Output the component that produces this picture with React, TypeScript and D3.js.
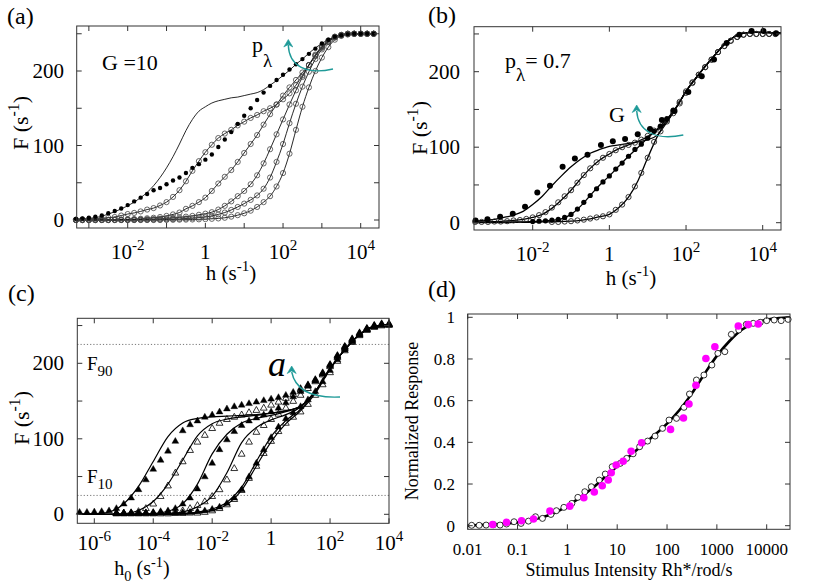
import React from "react";
import * as d3 from "d3";

const FONT = "'Liberation Serif', 'Times New Roman', serif";
const TEAL = "#1f9a98";
const FRAME = "#333";

// ---------------- Panel (a): G = 10, varying p_lambda ----------------
const A_LOGH = d3.range(-20, 27).map((k) => k / 6); // log10 h sampling grid
const A_LINE1 = [1, 1.5, 2, 3, 5, 8, 11, 15, 19, 24, 30, 37, 46, 57, 70, 85, 102, 120, 135, 146, 152, 157, 160, 162, 164, 165, 167, 169, 171, 175, 181, 187, 194, 201, 209, 216, 224, 231, 237, 242, 246, 248, 249.5, 250, 250, 250, 250];
const A_FILLED = [1.5, 2.2, 3, 4.3, 6, 9, 12, 15.5, 20, 25, 30, 35, 40, 43, 48, 53, 57, 63, 70, 75, 81, 88, 98, 108, 118, 129, 140, 150, 161, 171, 180, 188, 195, 202, 209, 216, 223, 230, 237, 242, 246, 248, 249.5, 250, 250, 250, 250];
const A_OPEN_1 = [0.5, 0.7, 1, 1.5, 2, 3, 4, 6, 8, 9.5, 11.5, 14, 16, 19.5, 24, 31, 40, 52, 66, 79, 91, 101, 110, 116, 121, 127, 132, 137, 141, 146, 150, 155, 162, 170, 181, 194, 208, 221, 232, 240, 246, 248.5, 250, 250, 250, 250, 250];
const A_OPEN_2 = [0, 0, 0, 0, 0.2, 0.3, 0.5, 0.7, 1, 1.3, 1.7, 2.3, 3, 4, 5.5, 7.5, 10, 15, 19, 24, 30, 39, 49, 58, 67, 78, 90, 102, 114, 128, 142, 155, 167, 178, 188, 198, 208, 220, 231, 239, 245, 248, 250, 250, 250, 250, 250];
const A_OPEN_3 = [0, 0, 0, 0, 0, 0, 0, 0.2, 0.3, 0.5, 0.7, 1, 1.3, 1.7, 2.2, 2.8, 3.5, 4.5, 5.5, 7, 8.5, 10.5, 14, 19, 25, 32, 39, 48, 60, 76, 95, 115, 135, 155, 174, 192, 208, 222, 233, 241, 246, 248.5, 250, 250, 250, 250, 250];
const A_OPEN_4 = [0, 0, 0, 0, 0, 0, 0, 0, 0, 0, 0.2, 0.3, 0.4, 0.6, 0.8, 1.1, 1.5, 2, 2.5, 3.2, 4, 5.5, 7.5, 10, 13.5, 17.5, 22, 27, 33, 42, 57, 78, 102, 130, 156, 179, 199, 216, 229, 239, 245, 248, 249.5, 250, 250, 250, 250];
const A_OPEN_5 = [0, 0, 0, 0, 0, 0, 0, 0, 0, 0, 0, 0, 0, 0, 0.2, 0.3, 0.4, 0.5, 0.7, 0.9, 1.2, 1.6, 2.1, 3, 4.5, 6.5, 9, 12.5, 17.5, 24, 32, 45, 63, 89, 121, 152, 178, 200, 218, 232, 242, 247, 249, 250, 250, 250, 250];
const A_X_TICKS = [-3, -2, -1, 0, 1, 2, 3, 4];
const A_X_LABELS = [-2, 0, 2, 4];
const F_TICKS = [0, 50, 100, 150, 200, 250];
const F_LABELS = [0, 100, 200];

// ---------------- Panel (b): p_lambda = 0.7, varying G ----------------
const B_FILLED_A_LOGH = [-3.49, -3.18, -2.85, -2.52, -2.2, -1.88, -1.55, -1.22, -0.9, -0.57, -0.22, 0.09, 0.41, 0.74, 1.06, 1.37, 1.7, 2.06, 2.41, 2.73, 3.06, 3.39, 3.71, 4.02, 4.35];
const B_FILLED_A = [3, 4.5, 8, 12, 21, 40, 49, 74, 85, 90, 103, 108, 111, 117, 124, 136, 148, 173, 194, 216, 238, 249, 254, 254, 251];
const B_OPEN_B_LOGH = d3.range(-21, 27).map((k) => k / 6);
const B_OPEN_B = [1, 1, 1, 1.5, 1.5, 2, 3, 3.5, 5, 7, 10, 14, 20, 27, 35, 43, 53, 63, 72, 80, 86, 91, 96, 100, 103, 106, 110, 115, 122, 127, 134, 145, 158, 172, 185, 196, 206, 216, 226, 234, 241, 246, 249, 250, 250, 250, 250, 250];
const B_FILLED_C_LOGH = d3.range(-12, 11).map((k) => k / 6);
const B_FILLED_C = [1.5, 2, 2.5, 3.5, 4.5, 7, 11, 18, 27, 36, 45, 54, 62, 71, 79, 88, 97, 104, 112, 121, 128, 138, 149];
const B_OPEN_D_LOGH = d3.range(-9, 27).map((k) => k / 6);
const B_OPEN_D = [1, 1, 1.5, 2, 3, 4, 5.5, 7, 8.5, 11, 17, 24, 34, 48, 66, 86, 107, 121, 136, 148, 160, 174, 186, 196, 206, 216, 226, 234, 241, 246, 249, 250, 250, 250, 250, 250];
const B_LINE_LOGH = d3.range(-14, 19).map((k) => k / 4);
const B_LINE_A = [2, 3, 4.5, 7, 10, 15, 24, 35, 49, 62, 74, 84, 92, 97, 101, 103, 105, 107, 110, 116, 133, 153, 174, 191, 207, 222, 236, 246, 251, 252, 252, 251.5, 251];
const B_LINE_B = [1, 1, 1.5, 2, 3, 4.5, 7, 11, 19, 30, 43, 58, 72, 83, 91, 98, 103, 108, 114, 123, 134, 153, 174, 191, 207, 222, 236, 246, 251, 252, 252, 251.5, 251];
const B_LINE_C = [0.5, 0.5, 0.5, 0.5, 1, 1, 1.5, 2, 3, 5, 11, 22, 36, 50, 62, 75, 88, 100, 112, 124, 137, 153, 174, 191, 207, 222, 236, 246, 251, 252, 252, 251.5, 251];
const B_LINE_D = [0, 0, 0, 0, 0.3, 0.5, 0.7, 1, 1.2, 1.6, 2, 3, 5, 8, 11, 20, 34, 56, 86, 114, 136, 153, 174, 191, 207, 222, 236, 246, 251, 252, 252, 251.5, 251];
const B_X_TICKS = [-2, 0, 2, 4];

// ---------------- Panel (c): varying a, triangles ----------------
const C_TRI_LOGH_1 = d3.range(-26, 17).map((k) => k / 4);
const C_TRI_LOGH_2 = d3.range(-21, 17).map((k) => k / 4);
const C_TRI_1 = [3, 3, 3.5, 4, 5, 8, 14, 22, 33, 46, 60, 72, 84, 97, 111, 119, 124, 129, 132, 136, 140, 143, 145, 147, 149, 151, 153, 155, 158, 162, 167, 172, 179, 188, 199, 211, 223, 233, 241, 247, 251, 253, 253];
const C_TRI_2 = [2, 2, 2.5, 4, 8, 14, 24, 38, 55, 70, 85, 96, 105, 114, 121, 126, 129, 132, 135, 138, 141, 145, 149, 154, 159, 165, 171, 178, 187, 198, 210, 222, 232, 240, 246, 250, 252, 252];
const C_TRI_3 = [2, 2, 2, 2, 2.5, 3, 4, 5, 8, 14, 22, 34, 50, 68, 86, 99, 110, 118, 124, 128, 132, 136, 141, 148, 156, 163, 170, 177, 186, 197, 209, 221, 231, 239, 245, 249, 251, 251];
const C_TRI_4 = [1.5, 1.5, 1.5, 1.5, 2, 2, 2.5, 3, 4, 5, 8, 12, 17, 24, 33, 46, 61, 80, 96, 109, 118, 126, 133, 141, 150, 158, 167, 176, 185, 196, 208, 220, 230, 238, 245, 249, 251, 251];
const C_TRI_5 = [1.5, 1.5, 1.5, 1.5, 1.5, 1.5, 2, 2, 2, 2.5, 3, 4, 5, 7, 10, 15, 22, 33, 50, 68, 86, 102, 116, 127, 135, 143, 152, 163, 176, 191, 205, 218, 229, 238, 245, 249, 251, 252];
const C_TRI_6 = [1, 1, 1, 1, 1, 1, 1, 1, 1.5, 1.5, 2, 2, 3, 5, 8, 13, 20, 32, 48, 64, 81, 97, 110, 121, 129, 136, 146, 158, 172, 188, 203, 217, 228, 237, 244, 248, 250, 251];
const C_LINE_LOGH = d3.range(-13, 9).map((k) => k / 2);
const C_LINE_1 = [0, 0.5, 3, 14, 37, 70, 103, 121, 127, 129, 130, 131, 132, 134, 137, 143, 163, 193, 218, 238, 249, 251];
const C_LINE_2 = [0, 0, 0, 0.5, 5, 17, 40, 72, 104, 120, 126, 129, 131, 134, 137, 143, 163, 193, 218, 238, 249, 251];
const C_LINE_3 = [0, 0, 0, 0, 0.5, 1, 4, 14, 40, 80, 106, 121, 127, 131, 136, 143, 163, 193, 218, 238, 249, 251];
const C_LINE_4 = [0, 0, 0, 0, 0, 0.5, 1, 3, 10, 24, 55, 95, 115, 125, 132, 142, 163, 193, 218, 238, 249, 251];
const C_LINE_5 = [0, 0, 0, 0, 0, 0, 0.5, 1, 3, 7, 16, 36, 70, 103, 124, 139, 162, 193, 218, 238, 249, 251];
const C_LINE_6 = [0, 0, 0, 0, 0, 0, 0, 0.5, 1.5, 5, 13, 32, 64, 96, 120, 137, 160, 192, 218, 238, 249, 251];
const C_X_TICKS = [-6, -4, -2, 0, 2, 4];
const C_F90 = 225;
const C_F10 = 25;

// ---------------- Panel (d): normalized response ----------------
const D_OPEN_LOGI = [-1.92, -1.77, -1.63, -1.48, -1.35, -1.22, -1.07, -0.93, -0.78, -0.64, -0.5, -0.33, -0.22, -0.07, 0.09, 0.21, 0.35, 0.48, 0.64, 0.76, 0.9, 1.06, 1.19, 1.32, 1.45, 1.61, 1.76, 1.91, 2.04, 2.19, 2.34, 2.45, 2.59, 2.74, 2.9, 3.02, 3.16, 3.29, 3.44, 3.59, 3.73, 3.87, 4.0, 4.15, 4.29, 4.43];
const D_OPEN_R = [0.002, 0.002, 0.003, 0.005, 0.003, 0.008, 0.019, 0.011, 0.022, 0.043, 0.035, 0.054, 0.072, 0.088, 0.107, 0.136, 0.163, 0.187, 0.219, 0.248, 0.283, 0.299, 0.323, 0.345, 0.379, 0.406, 0.43, 0.467, 0.507, 0.515, 0.568, 0.632, 0.699, 0.723, 0.771, 0.827, 0.835, 0.918, 0.939, 0.966, 0.971, 0.976, 0.984, 0.987, 0.984, 0.99];
const D_MAG_LOGI = [-1.5, -1.22, -0.92, -0.68, -0.35, 0.05, 0.33, 0.54, 0.7, 0.82, 0.88, 0.98, 1.12, 1.28, 1.49, 2.07, 2.33, 2.44, 2.58, 2.78, 2.96, 3.43, 3.63, 3.83];
const D_MAG_R = [0.006, 0.016, 0.024, 0.032, 0.07, 0.094, 0.134, 0.162, 0.192, 0.219, 0.254, 0.291, 0.309, 0.357, 0.398, 0.462, 0.517, 0.584, 0.674, 0.802, 0.859, 0.958, 0.965, 0.968];
const D_LINE_LOGI = d3.range(-8, 19).map((k) => k / 4);
const D_LINE_R = [0, 0.003, 0.006, 0.01, 0.016, 0.026, 0.04, 0.062, 0.095, 0.135, 0.18, 0.232, 0.285, 0.335, 0.385, 0.435, 0.49, 0.555, 0.635, 0.728, 0.815, 0.885, 0.94, 0.972, 0.988, 0.996, 1.0];
const D_X_TICKS = [0.01, 0.1, 1, 10, 100, 1000, 10000];
const D_X_LABELS = ["0.01", "0.1", "1", "10", "100", "1000", "10000"];
const D_Y_TICKS = [0, 0.2, 0.4, 0.6, 0.8, 1];

type Box = { x0: number; x1: number; y0: number; y1: number };

function Frame({ f }: { f: Box }) {
  return <rect x={f.x0} y={f.y0} width={f.x1 - f.x0} height={f.y1 - f.y0} fill="none" stroke={FRAME} strokeWidth={1} />;
}

function Ticks({ f, xs, ys, len = 5 }: { f: Box; xs: number[]; ys: number[]; len?: number }) {
  return (
    <g stroke={FRAME} strokeWidth={1}>
      {xs.map((v, i) => (
        <g key={"x" + i}>
          <line x1={v} x2={v} y1={f.y1} y2={f.y1 - len} />
          <line x1={v} x2={v} y1={f.y0} y2={f.y0 + len} />
        </g>
      ))}
      {ys.map((v, i) => (
        <g key={"y" + i}>
          <line x1={f.x0} x2={f.x0 + len} y1={v} y2={v} />
          <line x1={f.x1} x2={f.x1 - len} y1={v} y2={v} />
        </g>
      ))}
    </g>
  );
}

function Pow({ x, y, e, fs }: { x: number; y: number; e: number; fs: number }) {
  if (e === 0)
    return (
      <text x={x} y={y} textAnchor="middle" fontSize={fs}>
        1
      </text>
    );
  return (
    <text x={x} y={y} textAnchor="middle" fontSize={fs}>
      10
      <tspan dy={-fs * 0.42} fontSize={fs * 0.72}>
        {String(e)}
      </tspan>
    </text>
  );
}

function YTitle({ x, y, fs }: { x: number; y: number; fs: number }) {
  return (
    <text transform={`translate(${x},${y}) rotate(-90)`} textAnchor="middle" fontSize={fs}>
      F (s
      <tspan dy={-fs * 0.42} fontSize={fs * 0.72}>
        -1
      </tspan>
      <tspan dy={fs * 0.42}>)</tspan>
    </text>
  );
}

function XTitle({ x, y, fs, sub }: { x: number; y: number; fs: number; sub?: string }) {
  return (
    <text x={x} y={y} textAnchor="middle" fontSize={fs}>
      h
      {sub ? (
        <tspan dy={fs * 0.3} fontSize={fs * 0.72}>
          {sub}
        </tspan>
      ) : null}
      <tspan dy={sub ? -fs * 0.3 : 0}> (s</tspan>
      <tspan dy={-fs * 0.42} fontSize={fs * 0.72}>
        -1
      </tspan>
      <tspan dy={fs * 0.42}>)</tspan>
    </text>
  );
}

function Arrow({ d, tx, ty }: { d: string; tx: number; ty: number }) {
  return (
    <g>
      <path d={d} fill="none" stroke={TEAL} strokeWidth={1.4} />
      <path d={`M${tx - 4.5},${ty + 7.5} L${tx},${ty} L${tx + 4.5},${ty + 7.5} L${tx},${ty + 5} Z`} fill={TEAL} stroke={TEAL} strokeWidth={0.6} />
    </g>
  );
}

function linePath(grid: number[], vals: number[], sx: (v: number) => number, sy: (v: number) => number, curve: any = d3.curveMonotoneX) {
  return (
    d3
      .line<number>()
      .x((_, i) => sx(Math.pow(10, grid[i])))
      .y((v) => sy(v))
      .curve(curve)(vals) || ""
  );
}

const TRI = "M0,-3.6 L3.4,2.3 L-3.4,2.3 Z";

function PanelA() {
  const f: Box = { x0: 76.7, x1: 379, y0: 26, y1: 228 };
  const x = d3.scaleLog().domain([1e-2, 1e4]).range([127.7, 360.7]);
  const y = d3.scaleLinear().domain([0, 200]).range([220, 71]);
  const opens = [A_OPEN_1, A_OPEN_2, A_OPEN_3, A_OPEN_4, A_OPEN_5];
  return (
    <g>
      <defs>
        <clipPath id="clipA">
          <rect x={f.x0} y={f.y0} width={f.x1 - f.x0} height={f.y1 - f.y0} />
        </clipPath>
      </defs>
      <g clipPath="url(#clipA)" fill="none" stroke="#111" strokeWidth={0.9}>
        {[A_LINE1, ...opens].map((s, i) => (
          <path key={i} d={linePath(A_LOGH, s, x, y)} />
        ))}
      </g>
      <g fill="none" stroke="#444" strokeWidth={0.8}>
        {opens.map((s, j) =>
          s.map((v, i) => <circle key={j + "-" + i} cx={x(Math.pow(10, A_LOGH[i]))} cy={y(v)} r={2.6} />)
        )}
      </g>
      <g fill="#000">
        {A_FILLED.map((v, i) => (
          <circle key={i} cx={x(Math.pow(10, A_LOGH[i]))} cy={y(v)} r={2.2} />
        ))}
      </g>
      <Frame f={f} />
      <Ticks f={f} xs={A_X_TICKS.map((e) => x(Math.pow(10, e)))} ys={F_TICKS.map((v) => y(v))} />
      {A_X_LABELS.map((e) => (
        <Pow key={e} x={x(Math.pow(10, e))} y={259} e={e} fs={21} />
      ))}
      {F_LABELS.map((v) => (
        <text key={v} x={64} y={y(v) + 7} textAnchor="end" fontSize={21}>
          {v}
        </text>
      ))}
      <XTitle x={231} y={280} fs={21} />
      <YTitle x={28} y={123} fs={22} />
      <text x={7} y={24} fontSize={24}>
        (a)
      </text>
      <text x={102} y={70} fontSize={22}>
        G =10
      </text>
      <text x={252} y={52} fontSize={22}>
        p
        <tspan dy={15} fontSize={19}>
          λ
        </tspan>
      </text>
      <Arrow d="M333,69 C306,75 289,66 288.3,45" tx={288.3} ty={39.5} />
    </g>
  );
}

function PanelB() {
  const f: Box = { x0: 474, x1: 781, y0: 26.7, y1: 230 };
  const x = d3.scaleLog().domain([1e-2, 1e4]).range([532.7, 762.7]);
  const y = d3.scaleLinear().domain([0, 200]).range([222.7, 71.7]);
  const px = (e: number) => x(Math.pow(10, e));
  return (
    <g>
      <defs>
        <clipPath id="clipB">
          <rect x={f.x0} y={f.y0} width={f.x1 - f.x0} height={f.y1 - f.y0} />
        </clipPath>
      </defs>
      <g clipPath="url(#clipB)" fill="none" stroke="#000" strokeWidth={1.3}>
        {[B_LINE_A, B_LINE_B, B_LINE_C, B_LINE_D].map((s, i) => (
          <path key={i} d={linePath(B_LINE_LOGH, s, x, y)} />
        ))}
      </g>
      <g fill="none" stroke="#222" strokeWidth={0.9}>
        {B_OPEN_B.map((v, i) => (
          <circle key={"b" + i} cx={px(B_OPEN_B_LOGH[i])} cy={y(v)} r={2.6} />
        ))}
        {B_OPEN_D.map((v, i) => (
          <circle key={"d" + i} cx={px(B_OPEN_D_LOGH[i])} cy={y(v)} r={2.6} />
        ))}
      </g>
      <g fill="#000">
        {B_FILLED_C.map((v, i) => (
          <circle key={"c" + i} cx={px(B_FILLED_C_LOGH[i])} cy={y(v)} r={2.6} />
        ))}
        {B_FILLED_A.map((v, i) => (
          <circle key={"a" + i} cx={px(B_FILLED_A_LOGH[i])} cy={y(v)} r={3} />
        ))}
      </g>
      <Frame f={f} />
      <Ticks f={f} xs={B_X_TICKS.map(px)} ys={F_TICKS.map((v) => y(v))} />
      {B_X_TICKS.map((e) => (
        <Pow key={e} x={px(e)} y={261} e={e} fs={21} />
      ))}
      {F_LABELS.map((v) => (
        <text key={v} x={460} y={y(v) + 7} textAnchor="end" fontSize={21}>
          {v}
        </text>
      ))}
      <XTitle x={631} y={285} fs={21} />
      <YTitle x={427} y={128} fs={22} />
      <text x={428} y={23} fontSize={24}>
        (b)
      </text>
      <text x={505} y={68} fontSize={22}>
        p
        <tspan dy={13} fontSize={19}>
          λ
        </tspan>
        <tspan dy={-13} fontSize={22}>
          = 0.7
        </tspan>
      </text>
      <text x={609} y={122} fontSize={22}>
        G
      </text>
      <Arrow d="M683.3,135 C655,141 638,131 636.7,111" tx={636.7} ty={105} />
    </g>
  );
}

function PanelC() {
  const f: Box = { x0: 77.3, x1: 389, y0: 318.3, y1: 523.3 };
  const x = d3.scaleLog().domain([1e-6, 1e4]).range([94.3, 389]);
  const y = d3.scaleLinear().domain([0, 200]).range([514.3, 363.3]);
  const px = (e: number) => x(Math.pow(10, e));
  const tris: [number[], number[], boolean][] = [
    [C_TRI_LOGH_1, C_TRI_1, true],
    [C_TRI_LOGH_2, C_TRI_2, false],
    [C_TRI_LOGH_2, C_TRI_3, true],
    [C_TRI_LOGH_2, C_TRI_4, false],
    [C_TRI_LOGH_2, C_TRI_5, true],
    [C_TRI_LOGH_2, C_TRI_6, false],
  ];
  return (
    <g>
      <defs>
        <clipPath id="clipC">
          <rect x={f.x0} y={f.y0} width={f.x1 - f.x0} height={f.y1 - f.y0} />
        </clipPath>
      </defs>
      <g stroke="#555" strokeWidth={0.8} strokeDasharray="1.2,2">
        <line x1={f.x0} x2={f.x1} y1={y(C_F90)} y2={y(C_F90)} />
        <line x1={f.x0} x2={f.x1} y1={y(C_F10)} y2={y(C_F10)} />
      </g>
      <g clipPath="url(#clipC)" fill="none" stroke="#000" strokeWidth={1.2}>
        {[C_LINE_1, C_LINE_2, C_LINE_3, C_LINE_4, C_LINE_5, C_LINE_6].map((s, i) => (
          <path key={i} d={linePath(C_LINE_LOGH, s, x, y)} />
        ))}
      </g>
      {tris.map(([grid, vals, filled], j) => (
        <g key={j} fill={filled ? "#000" : "none"} stroke="#000" strokeWidth={filled ? 0.4 : 0.8}>
          {vals.map((v, i) => (
            <path key={i} d={TRI} transform={`translate(${px(grid[i])},${y(v)})`} />
          ))}
        </g>
      ))}
      <Frame f={f} />
      <Ticks f={f} xs={C_X_TICKS.map(px)} ys={F_TICKS.map((v) => y(v))} />
      {C_X_TICKS.map((e) => (
        <Pow key={e} x={px(e)} y={e === 0 ? 545 : 550} e={e} fs={21} />
      ))}
      {F_LABELS.map((v) => (
        <text key={v} x={64} y={y(v) + 7} textAnchor="end" fontSize={21}>
          {v}
        </text>
      ))}
      <XTitle x={142} y={575} fs={20} sub="0" />
      <YTitle x={29} y={418} fs={22} />
      <text x={8} y={301} fontSize={24}>
        (c)
      </text>
      <text x={87} y={370} fontSize={19}>
        F
        <tspan dy={6} fontSize={15}>
          90
        </tspan>
      </text>
      <text x={87} y={483} fontSize={19}>
        F
        <tspan dy={6} fontSize={15}>
          10
        </tspan>
      </text>
      <text x={268} y={376} fontSize={36} fontStyle="italic">
        a
      </text>
      <Arrow d="M340,397 C318,398 296,393 291.7,372" tx={291.7} ty={366} />
    </g>
  );
}

function PanelD() {
  const f: Box = { x0: 467.7, x1: 790, y0: 314, y1: 529.3 };
  const x = d3.scaleLog().domain([0.01, 10000]).range([467.7, 766.7]);
  const y = d3.scaleLinear().domain([0, 1]).range([525.7, 317.3]);
  const px = (e: number) => x(Math.pow(10, e));
  return (
    <g>
      <defs>
        <clipPath id="clipD">
          <rect x={f.x0} y={f.y0} width={f.x1 - f.x0} height={f.y1 - f.y0} />
        </clipPath>
      </defs>
      <path clipPath="url(#clipD)" d={linePath(D_LINE_LOGI, D_LINE_R, x, y, d3.curveMonotoneX)} fill="none" stroke="#000" strokeWidth={2.6} />
      <g fill="#fff" stroke="#000" strokeWidth={0.8}>
        {D_OPEN_R.map((v, i) => (
          <circle key={i} cx={px(D_OPEN_LOGI[i])} cy={y(v)} r={3} />
        ))}
      </g>
      <g fill="#ff00ff">
        {D_MAG_R.map((v, i) => (
          <circle key={i} cx={px(D_MAG_LOGI[i])} cy={y(v)} r={3.8} />
        ))}
      </g>
      <Frame f={f} />
      <Ticks f={f} xs={D_X_TICKS.map((v) => x(v))} ys={D_Y_TICKS.map((v) => y(v))} />
      {D_X_TICKS.map((v, i) => (
        <text key={v} x={x(v)} y={555} textAnchor="middle" fontSize={17}>
          {D_X_LABELS[i]}
        </text>
      ))}
      {D_Y_TICKS.map((v) => (
        <text key={v} x={455} y={y(v) + 6} textAnchor="end" fontSize={17}>
          {String(v)}
        </text>
      ))}
      <text x={629} y={576} textAnchor="middle" fontSize={18}>
        Stimulus Intensity Rh*/rod/s
      </text>
      <text transform="translate(418,421) rotate(-90)" textAnchor="middle" fontSize={18}>
        Normalized Response
      </text>
      <text x={428} y={297} fontSize={24}>
        (d)
      </text>
    </g>
  );
}

export default function App() {
  return (
    <svg
      width={822}
      height={587}
      viewBox="0 0 822 587"
      style={{ position: "absolute", left: 0, top: 0, background: "#fff" }}
      fontFamily={FONT}
    >
      <rect x={0} y={0} width={822} height={587} fill="#fff" />
      <PanelA />
      <PanelB />
      <PanelC />
      <PanelD />
    </svg>
  );
}
